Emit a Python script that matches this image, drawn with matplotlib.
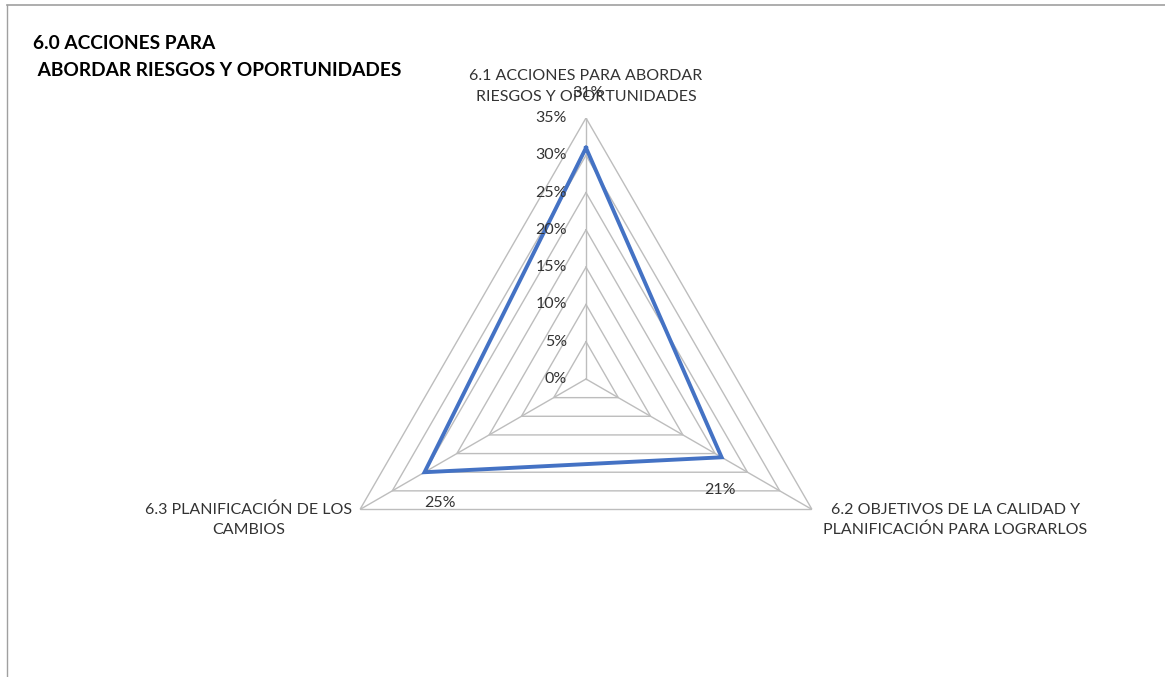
import numpy as np
import matplotlib
matplotlib.use("Agg")
import matplotlib.pyplot as plt
from matplotlib.lines import Line2D

plt.rcParams['font.family'] = ['Lato', 'DejaVu Sans']

title = "6.0 ACCIONES PARA\n ABORDAR RIESGOS Y OPORTUNIDADES"
categories = ["6.1 ACCIONES PARA ABORDAR\nRIESGOS Y OPORTUNIDADES",
              "6.2 OBJETIVOS DE LA CALIDAD Y\nPLANIFICACIÓN PARA LOGRARLOS",
              "6.3 PLANIFICACIÓN DE LOS\nCAMBIOS"]
values = [31, 21, 25]
ticks = [0, 5, 10, 15, 20, 25, 30, 35]
tick_labels = [f"{t}%" for t in ticks]
value_labels = [f"{v}%" for v in values]

W, H = 1165, 677
fig = plt.figure(figsize=(W / 100, H / 100), dpi=100)
fig.patch.set_facecolor('white')

# frame border
fig.add_artist(Line2D([7 / W, 1.0], [1 - 5 / H, 1 - 5 / H], color='#a0a0a0', lw=1.2, transform=fig.transFigure))
fig.add_artist(Line2D([7 / W, 7 / W], [0, 1 - 5 / H], color='#a0a0a0', lw=1.0, transform=fig.transFigure))

cx, cy, R = 586, 379, 261
ax = fig.add_axes([(cx - R) / W, (H - cy - R) / H, 2 * R / W, 2 * R / H], projection='polar')
ax.set_theta_offset(np.pi / 2)
ax.set_theta_direction(-1)
ax.set_ylim(0, ticks[-1])
ax.grid(False)
ax.spines['polar'].set_visible(False)
ax.set_xticks([])
ax.set_yticks([])
ax.patch.set_alpha(0)

n = len(categories)
angles = np.linspace(0, 2 * np.pi, n, endpoint=False)
closed = np.concatenate([angles, angles[:1]])

grid_color = '#bdbdbd'
for t in ticks[1:]:
    ax.plot(closed, [t] * (n + 1), color=grid_color, lw=1.0, zorder=1)
for a in angles:
    ax.plot([a, a], [0, ticks[-1]], color=grid_color, lw=1.0, zorder=1)

vals_closed = values + values[:1]
ax.plot(closed, vals_closed, color='#4472C4', lw=2.8, zorder=3, solid_joinstyle='miter')

txt_color = '#333333'
for t, lab in zip(ticks, tick_labels):
    ax.annotate(lab, xy=(0, t), xytext=(-19, 0), textcoords='offset pixels',
                ha='right', va='center', fontsize=11.5, color=txt_color)

# value labels
label_offsets = [(2, 55), (-2, -33), (15, -31)]
for a, v, lab, off in zip(angles, values, value_labels, label_offsets):
    ax.annotate(lab, xy=(a, v), xytext=off, textcoords='offset pixels',
                ha='center', va='center', fontsize=11.5, color=txt_color)

# category labels
ax.annotate(categories[0], xy=(angles[0], ticks[-1]), xytext=(0, 14), textcoords='offset pixels',
            ha='center', va='bottom', fontsize=11.5, color=txt_color, multialignment='center',
            linespacing=1.6)
ax.annotate(categories[1], xy=(angles[1], ticks[-1]), xytext=(11, 7), textcoords='offset pixels',
            ha='left', va='top', fontsize=11.5, color=txt_color, multialignment='center',
            linespacing=1.5)
ax.annotate(categories[2], xy=(angles[2], ticks[-1]), xytext=(-8, 7), textcoords='offset pixels',
            ha='right', va='top', fontsize=11.5, color=txt_color, multialignment='center',
            linespacing=1.5)

fig.text(33 / W, 1 - 35 / H, title, ha='left', va='top', fontsize=13.8, fontweight='bold',
         color='black', linespacing=1.75)

fig.savefig('out.png', dpi=100)
